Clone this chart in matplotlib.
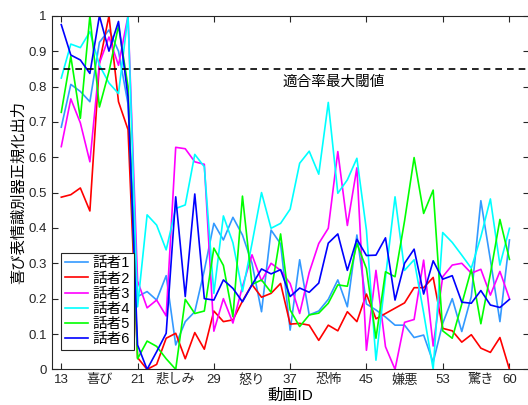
import matplotlib
matplotlib.use("Agg")
import matplotlib.pyplot as plt

plt.rcParams['font.family'] = ['Liberation Sans', 'Noto Sans CJK JP']

# video IDs and per-speaker normalized outputs of the joy classifier
video_id = list(range(13, 61))

spk1 = [0.685, 0.806, 0.786, 0.757, 0.925, 0.96, 0.90, 0.75,
        0.206, 0.22, 0.196, 0.265, 0.069, 0.135, 0.163, 0.28,
        0.413, 0.366, 0.43, 0.38, 0.30, 0.163, 0.394, 0.355,
        0.111, 0.31, 0.154, 0.165, 0.198, 0.253, 0.177, 0.38,
        0.185, 0.168, 0.148, 0.125, 0.125, 0.09, 0.097, 0.02,
        0.13, 0.2, 0.107, 0.206, 0.477, 0.31, 0.135, 0.366]
spk2 = [0.487, 0.494, 0.513, 0.448, 0.866, 1.0, 0.757, 0.678,
        0.033, 0.0, 0.014, 0.088, 0.102, 0.03, 0.104, 0.057,
        0.165, 0.135, 0.14, 0.193, 0.24, 0.204, 0.215, 0.243,
        0.128, 0.13, 0.125, 0.082, 0.125, 0.109, 0.163, 0.135,
        0.213, 0.143, 0.158, 0.173, 0.188, 0.231, 0.231, 0.26,
        0.116, 0.109, 0.077, 0.098, 0.06, 0.048, 0.09, 0.0]
spk3 = [0.63, 0.765, 0.697, 0.587, 0.866, 0.94, 0.86, 1.0,
        0.25, 0.174, 0.196, 0.151, 0.628, 0.624, 0.587, 0.58,
        0.108, 0.2, 0.131, 0.234, 0.324, 0.25, 0.3, 0.28,
        0.243, 0.158, 0.274, 0.356, 0.399, 0.616, 0.407, 0.57,
        0.054, 0.28, 0.064, 0.0, 0.133, 0.141, 0.309, 0.066,
        0.262, 0.295, 0.3, 0.272, 0.283, 0.21, 0.277, 0.2]
spk4 = [0.824, 0.92, 0.91, 0.955, 0.86, 0.81, 0.78, 1.0,
        0.177, 0.437, 0.408, 0.338, 0.455, 0.465, 0.608, 0.573,
        0.215, 0.434, 0.358, 0.22, 0.356, 0.5, 0.399, 0.413,
        0.453, 0.583, 0.617, 0.552, 0.755, 0.498, 0.536, 0.597,
        0.394, 0.026, 0.26, 0.488, 0.28, 0.31, 0.16, 0.0,
        0.387, 0.359, 0.323, 0.286, 0.375, 0.482, 0.295, 0.399]
spk5 = [0.727, 0.885, 0.71, 1.0, 0.742, 0.842, 0.972, 0.8,
        0.03, 0.08, 0.065, 0.03, 0.0, 0.198, 0.158, 0.165,
        0.343, 0.294, 0.149, 0.49, 0.24, 0.253, 0.218, 0.383,
        0.168, 0.121, 0.154, 0.159, 0.187, 0.239, 0.235, 0.356,
        0.285, 0.088, 0.276, 0.262, 0.42, 0.599, 0.441, 0.507,
        0.109, 0.088, 0.185, 0.283, 0.129, 0.27, 0.424, 0.311]
spk6 = [0.975, 0.889, 0.875, 0.837, 1.0, 0.90, 0.984, 0.77,
        0.069, 0.0, 0.05, 0.102, 0.488, 0.206, 0.496, 0.2,
        0.196, 0.253, 0.229, 0.191, 0.239, 0.284, 0.27, 0.282,
        0.206, 0.23, 0.218, 0.244, 0.357, 0.383, 0.28, 0.368,
        0.322, 0.323, 0.372, 0.196, 0.3, 0.34, 0.213, 0.307,
        0.255, 0.265, 0.19, 0.187, 0.223, 0.182, 0.175, 0.198]

speakers = ['話者1', '話者2', '話者3', '話者4', '話者5', '話者6']
colors = ['#3399ff', '#ff0000', '#ff00ff', '#00ffff', '#00ff00', '#0000ff']
threshold = 0.85

id_ticks = [13, 21, 29, 37, 45, 53, 60]
emotion_pos = [17, 25, 33, 41, 49, 57]
emotions = ['喜び', '悲しみ', '怒り', '恐怖', '嫌悪', '驚き']

fig = plt.figure(figsize=(5.28, 4.05), dpi=100)
ax = fig.add_axes([0.098, 0.088, 0.903, 0.873])

for y, name, c in zip([spk1, spk2, spk3, spk4, spk5, spk6], speakers, colors):
    ax.plot(video_id, y, color=c, lw=1.2, label=name)

ax.axhline(threshold, color='black', lw=1.2, ls=(0, (4, 3)))
ax.text(36.2, 0.814, '適合率最大閾値', fontsize=10.5, va='center', ha='left')

ax.set_xlim(12, 62)
ax.set_ylim(0, 1)
ax.set_xticks(id_ticks, [str(t) for t in id_ticks])
ax.set_xticks(emotion_pos, emotions, minor=True)
yt = [i / 10 for i in range(11)]
ax.set_yticks(yt, ['0'] + ['%.1f' % v for v in yt[1:-1]] + ['1'])

ax.tick_params(which='major', direction='in', length=4, top=True, right=True,
               labelsize=9.5, colors='#262626', width=0.8)
ax.tick_params(which='minor', length=0, labelsize=9.5, labelcolor='#262626')
for s in ax.spines.values():
    s.set_color('#262626')
    s.set_linewidth(0.8)

ax.set_xlabel('動画ID', fontsize=11, labelpad=1)
ax.set_ylabel('喜び表情識別器正規化出力', fontsize=11, labelpad=2)

leg = ax.legend(loc='lower left', bbox_to_anchor=(0.02, 0.055), borderaxespad=0,
                fontsize=10.5, fancybox=False, edgecolor='#262626',
                handlelength=1.6, handletextpad=0.3, labelspacing=0.08,
                borderpad=0.25, framealpha=1)
leg.get_frame().set_linewidth(0.8)

fig.savefig('out.png', dpi=100)
